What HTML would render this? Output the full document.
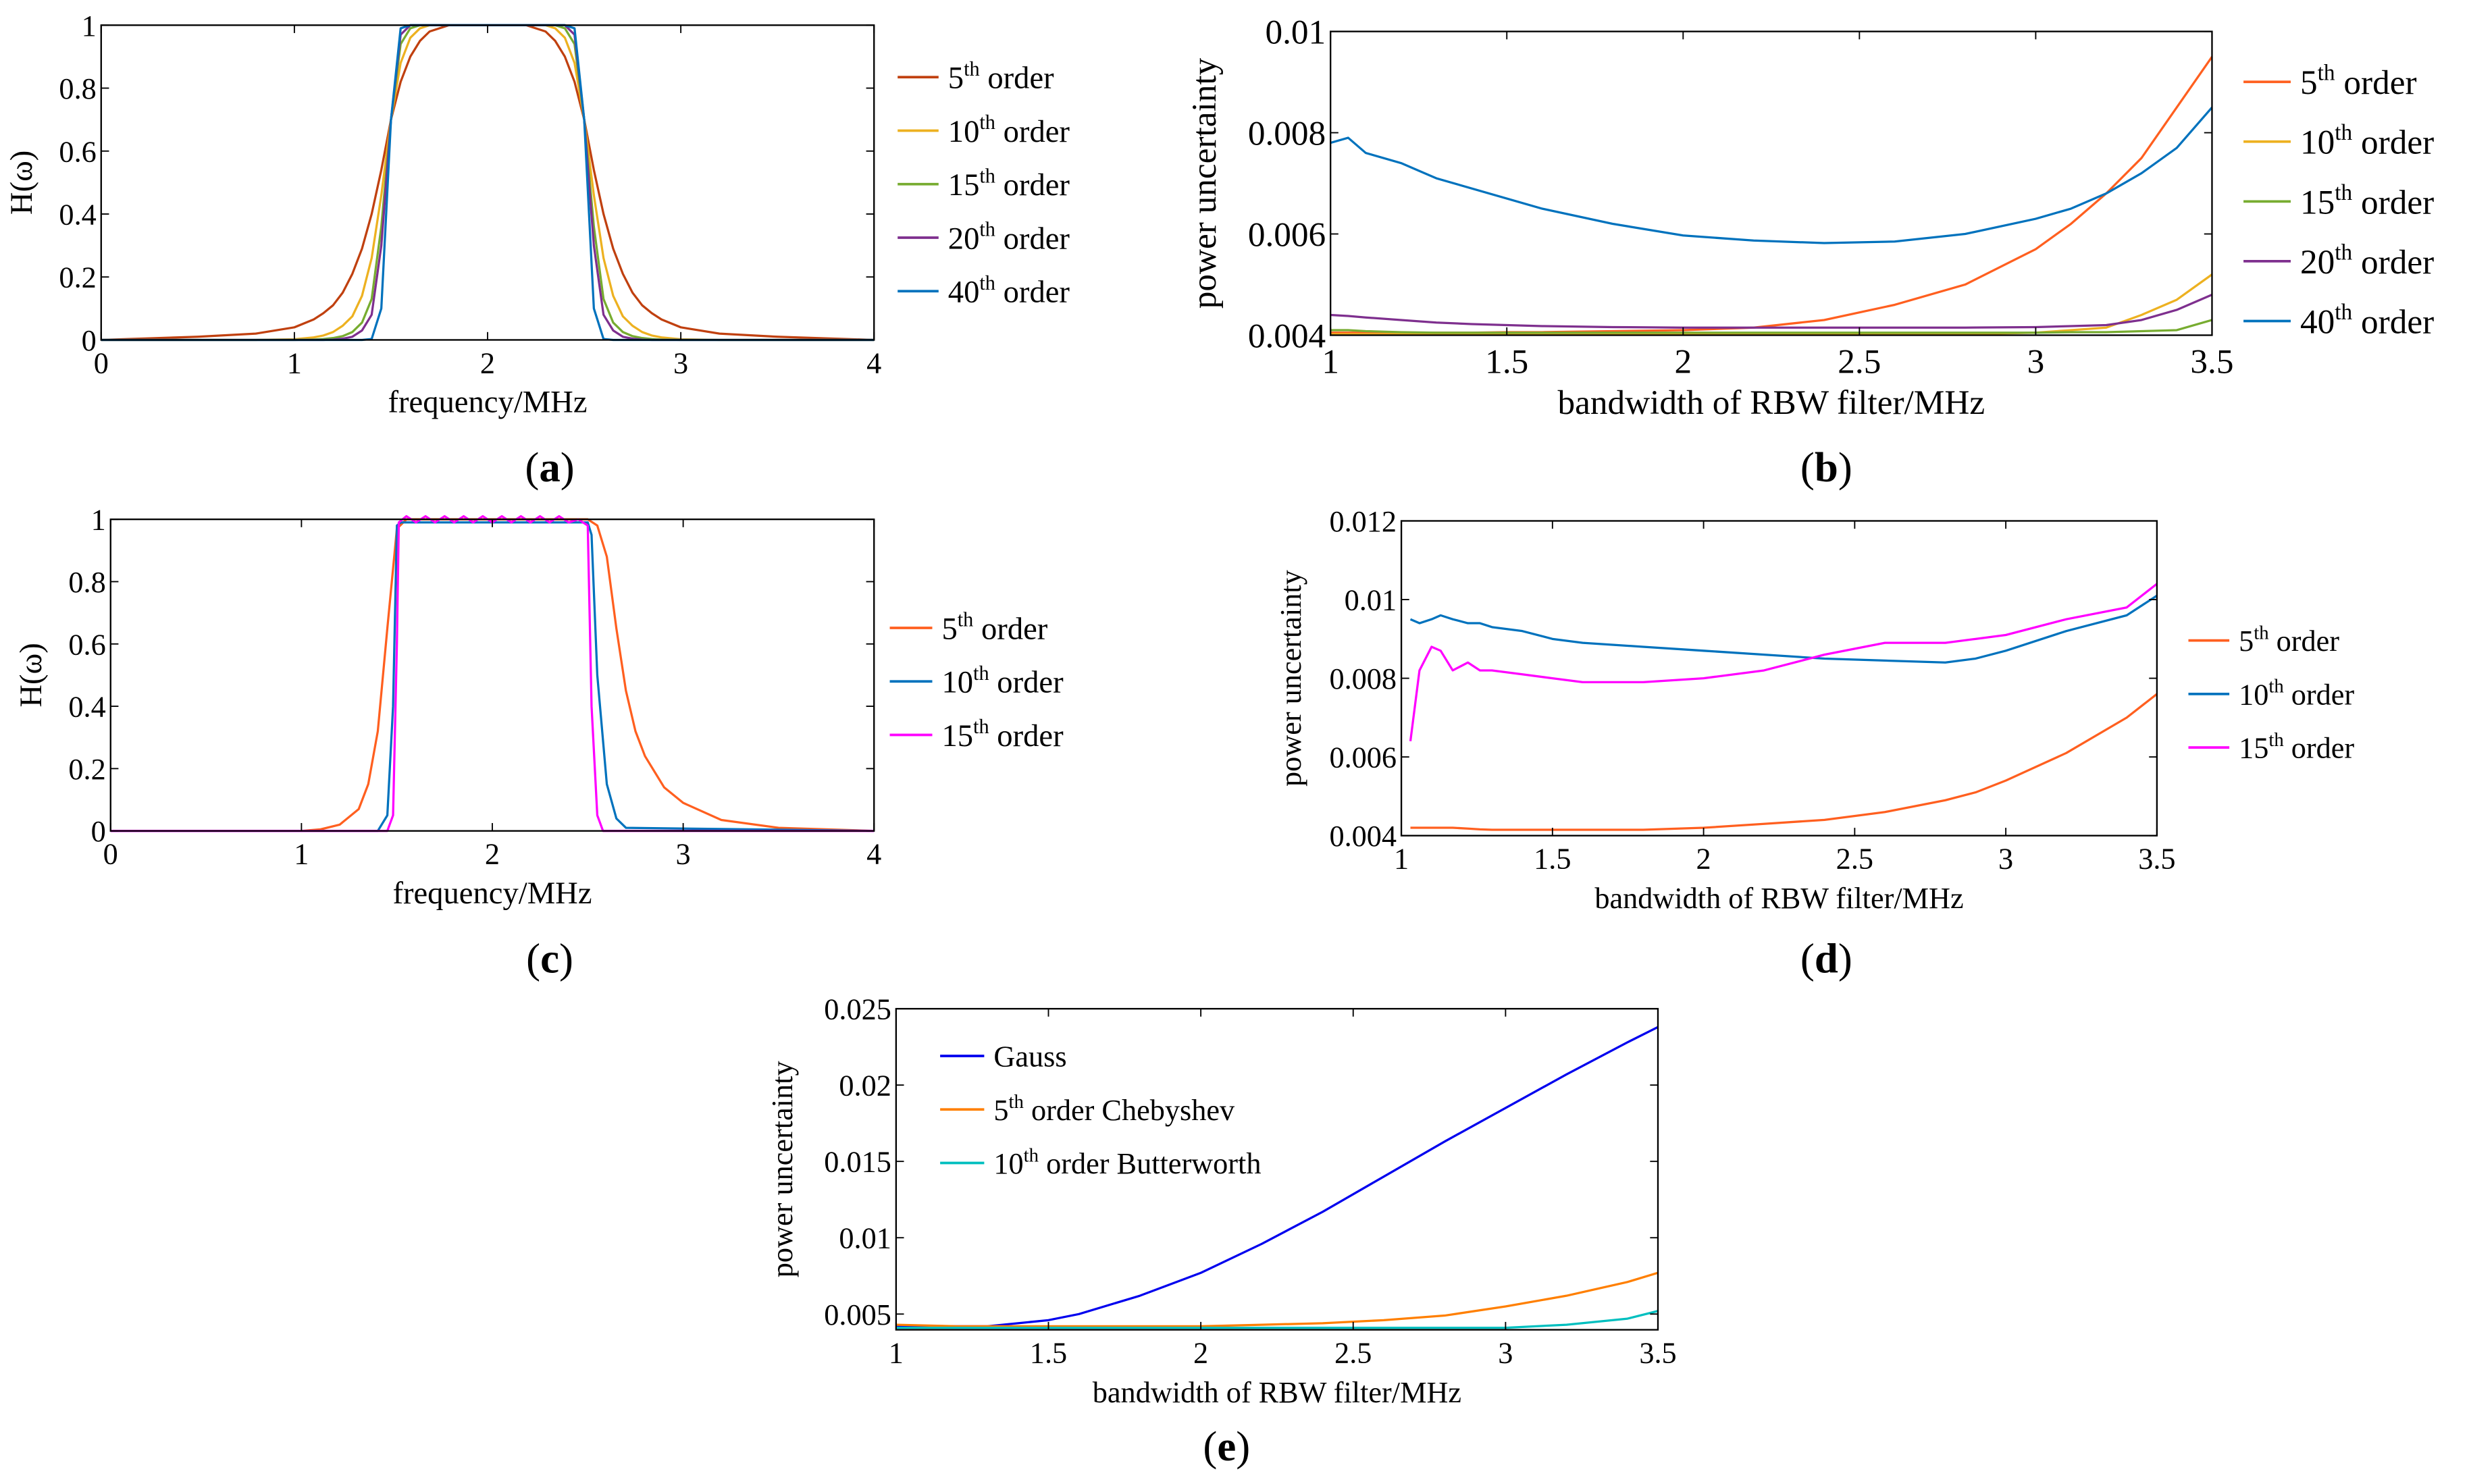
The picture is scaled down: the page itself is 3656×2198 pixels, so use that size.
<!DOCTYPE html>
<html><head><meta charset="utf-8"><style>
html,body{margin:0;padding:0;background:#fff;}
svg{display:block;font-family:"Liberation Serif",serif;}
svg text{font-family:"Liberation Serif",serif;}
</style></head><body>
<svg id="fig" width="3656" height="2198" viewBox="0 0 1568 943" font-family="Liberation Serif, serif" xmlns="http://www.w3.org/2000/svg"></svg>
<script>
// ---- panel (a) data ----
const aX = [0,0.5,0.8,1.0,1.1,1.15,1.2,1.25,1.3,1.35,1.4,1.45,1.5,1.55,1.6,1.65,1.7,1.8,2.2,2.3,2.35,2.4,2.45,2.5,2.55,2.6,2.65,2.7,2.75,2.8,2.85,2.9,3.0,3.2,3.5,4];
const a5 = [0,0.01,0.02,0.04,0.065,0.085,0.11,0.15,0.21,0.29,0.4,0.54,0.7,0.82,0.9,0.95,0.98,1,1,0.98,0.95,0.9,0.82,0.7,0.54,0.4,0.29,0.21,0.15,0.11,0.085,0.065,0.04,0.02,0.01,0];
const a10 = [0,0,0,0.002,0.008,0.014,0.025,0.045,0.075,0.14,0.26,0.46,0.7,0.88,0.96,0.99,1,1,1,1,0.99,0.96,0.88,0.7,0.46,0.26,0.14,0.075,0.045,0.025,0.014,0.008,0.002,0,0,0];
const a15 = [0,0,0,0,0.001,0.003,0.006,0.012,0.025,0.055,0.13,0.36,0.7,0.94,0.99,1,1,1,1,1,1,0.99,0.94,0.7,0.36,0.13,0.055,0.025,0.012,0.006,0.003,0.001,0,0,0,0];
const a20 = [0,0,0,0,0,0,0.001,0.004,0.01,0.03,0.08,0.3,0.7,0.97,1,1,1,1,1,1,1,1,0.97,0.7,0.3,0.08,0.03,0.01,0.004,0.001,0,0,0,0,0,0];
const a40 = [0,0,0,0,0,0,0,0,0,0,0.003,0.1,0.7,0.99,1,1,1,1,1,1,1,1,0.99,0.7,0.1,0.003,0,0,0,0,0,0,0,0,0,0];
// ---- panel (b) data ----
const bX = [1,1.05,1.1,1.2,1.3,1.4,1.5,1.6,1.8,2.0,2.2,2.4,2.6,2.8,3.0,3.1,3.2,3.3,3.4,3.5];
const b5 = [0.00405,0.00405,0.00405,0.00405,0.00405,0.00405,0.00406,0.00406,0.00408,0.0041,0.00415,0.0043,0.0046,0.005,0.0057,0.0062,0.0068,0.0075,0.0085,0.0095];
const b10 = [0.00402,0.00402,0.00402,0.00402,0.00402,0.00402,0.00402,0.00402,0.00402,0.00402,0.00402,0.00402,0.00402,0.00402,0.00405,0.0041,0.00415,0.0044,0.0047,0.0052];
const b15 = [0.0041,0.0041,0.00408,0.00406,0.00405,0.00405,0.00405,0.00405,0.00405,0.00405,0.00405,0.00405,0.00405,0.00405,0.00405,0.00406,0.00406,0.00408,0.0041,0.0043];
const b20 = [0.0044,0.00438,0.00435,0.0043,0.00425,0.00422,0.0042,0.00418,0.00416,0.00415,0.00415,0.00415,0.00415,0.00415,0.00416,0.00418,0.0042,0.0043,0.0045,0.0048];
const b40 = [0.0078,0.0079,0.0076,0.0074,0.0071,0.0069,0.0067,0.0065,0.0062,0.00597,0.00587,0.00582,0.00585,0.006,0.0063,0.0065,0.0068,0.0072,0.0077,0.0085];
// ---- panel (c) data ----
const cX5 = [0,1.0,1.1,1.2,1.3,1.35,1.4,1.45,1.5,1.55,2.5,2.55,2.6,2.65,2.7,2.75,2.8,2.9,3.0,3.2,3.5,4];
const c5 = [0,0,0.005,0.02,0.07,0.15,0.32,0.65,0.97,1,1,0.98,0.88,0.65,0.45,0.32,0.24,0.14,0.09,0.035,0.01,0];
const cX10 = [0,1.4,1.45,1.48,1.5,1.52,2.5,2.52,2.55,2.6,2.65,2.7,4];
const c10 = [0,0,0.05,0.4,0.98,0.99,0.99,0.95,0.5,0.15,0.04,0.01,0];
const cX15 = [0,1.45,1.48,1.5,1.51,1.55,1.6,1.65,1.7,1.75,1.8,1.85,1.9,1.95,2.0,2.05,2.1,2.15,2.2,2.25,2.3,2.35,2.4,2.45,2.5,2.52,2.55,2.58,4];
const c15 = [0,0,0.05,0.6,0.99,1.01,0.99,1.01,0.99,1.01,0.99,1.01,0.99,1.01,0.99,1.01,0.99,1.01,0.99,1.01,0.99,1.01,0.99,1.0,0.98,0.4,0.05,0,0];
// ---- panel (d) data ----
const dX = [1.03,1.06,1.1,1.13,1.17,1.22,1.26,1.3,1.4,1.5,1.6,1.8,2.0,2.2,2.4,2.6,2.8,2.9,3.0,3.2,3.4,3.5];
const d5 = [0.0042,0.0042,0.0042,0.0042,0.0042,0.00418,0.00416,0.00415,0.00415,0.00415,0.00415,0.00415,0.0042,0.0043,0.0044,0.0046,0.0049,0.0051,0.0054,0.0061,0.007,0.0076];
const d10 = [0.0095,0.0094,0.0095,0.0096,0.0095,0.0094,0.0094,0.0093,0.0092,0.009,0.0089,0.0088,0.0087,0.0086,0.0085,0.00845,0.0084,0.0085,0.0087,0.0092,0.0096,0.0101];
const d15 = [0.0064,0.0082,0.0088,0.0087,0.0082,0.0084,0.0082,0.0082,0.0081,0.008,0.0079,0.0079,0.008,0.0082,0.0086,0.0089,0.0089,0.009,0.0091,0.0095,0.0098,0.0104];
// ---- panel (e) data ----
const eX = [1,1.2,1.3,1.4,1.5,1.6,1.8,2.0,2.2,2.4,2.6,2.8,3.0,3.2,3.4,3.5];
const eGauss = [0.0042,0.0042,0.0042,0.0044,0.0046,0.005,0.0062,0.0077,0.0096,0.0117,0.014,0.0163,0.0185,0.0207,0.0228,0.0238];
const eCheb = [0.0043,0.0042,0.0042,0.0042,0.0042,0.0042,0.0042,0.0042,0.0043,0.0044,0.0046,0.0049,0.0055,0.0062,0.0071,0.0077];
const eButter = [0.0041,0.0041,0.0041,0.0041,0.0041,0.0041,0.0041,0.0041,0.0041,0.0041,0.0041,0.0041,0.0041,0.0043,0.0047,0.0052];
// ---- ticks ----
const freqTicks = [0,1,2,3,4];
const hTicks = [0,0.2,0.4,0.6,0.8,1];
const hTickLabels = ['0','0.2','0.4','0.6','0.8','1'];
const bwTicks = [1,1.5,2,2.5,3,3.5];
const bYTicks = [0.004,0.006,0.008,0.01];
const bYLabels = ['0.004','0.006','0.008','0.01'];
const dYTicks = [0.004,0.006,0.008,0.01,0.012];
const dYLabels = ['0.004','0.006','0.008','0.01','0.012'];
const eYTicks = [0.005,0.01,0.015,0.02,0.025];
const eYLabels = ['0.005','0.01','0.015','0.02','0.025'];

const NS='http://www.w3.org/2000/svg';
const svg=document.getElementById('fig');
function mk(tag,attrs,parent){const e=document.createElementNS(NS,tag);for(const k in attrs)e.setAttribute(k,attrs[k]);(parent||svg).appendChild(e);return e;}

function chart(o){
  const g=mk('g',{});
  
  
  const sx=v=>o.x0+(v-o.xmin)/(o.xmax-o.xmin)*(o.x1-o.x0);
  const sy=v=>o.y1-(v-o.ymin)/(o.ymax-o.ymin)*(o.y1-o.y0);
  o.series.forEach(s=>{
    const d=s.x.map((xv,i)=>(i?'L':'M')+sx(xv).toFixed(2)+' '+sy(s.y[i]).toFixed(2)).join(' ');
    const p=mk('path',{d:d,fill:'none',stroke:s.color,'stroke-width':1.4,'stroke-linejoin':'round'},g);
    
    
  });
  const box=mk('rect',{x:o.x0,y:o.y0,width:o.x1-o.x0,height:o.y1-o.y0,fill:'none',stroke:'#000','stroke-width':1},g);
  
  
  const fs=o.fs;
  o.xt.forEach(v=>{
    const x=sx(v);
    mk('line',{x1:x,y1:o.y1,x2:x,y2:o.y1-5,stroke:'#000','stroke-width':0.8},g);
    mk('line',{x1:x,y1:o.y0,x2:x,y2:o.y0+5,stroke:'#000','stroke-width':0.8},g);
    const t=mk('text',{x:x,y:o.y1+fs+2,'font-size':fs,'text-anchor':'middle'},g);
    t.textContent=String(v);
    
    
  });
  o.yt.forEach((v,i)=>{
    const y=sy(v);
    mk('line',{x1:o.x0,y1:y,x2:o.x0+5,y2:y,stroke:'#000','stroke-width':0.8},g);
    mk('line',{x1:o.x1,y1:y,x2:o.x1-5,y2:y,stroke:'#000','stroke-width':0.8},g);
    const t=mk('text',{x:o.x0-3,y:y+fs*0.35,'font-size':fs,'text-anchor':'end'},g);
    t.textContent=o.yl[i];
    
    
  });
  const xl=mk('text',{x:(o.x0+o.x1)/2,y:o.xly,'font-size':o.lfs||fs,'text-anchor':'middle'},g);
  xl.textContent=o.xlabel;
  
  
  const yl=mk('text',{x:0,y:0,'font-size':o.lfs||fs,'text-anchor':'middle',transform:`translate(${o.ylx},${(o.y0+o.y1)/2}) rotate(-90)`},g);
  yl.textContent=o.ylabel;
  
  
  o.series.forEach((s,i)=>{
    const y=o.leg.y+i*o.leg.dy;
    const lg=mk('g',{},g);
    
    
    mk('line',{x1:o.leg.x,y1:y,x2:o.leg.x+o.leg.w,y2:y,stroke:s.color,'stroke-width':1.6},lg);
    const t=mk('text',{x:o.leg.x+o.leg.w+6,y:y+o.leg.fs*0.35,'font-size':o.leg.fs},lg);
    if(s.sup){
      t.appendChild(document.createTextNode(s.pre));
      const ts=mk('tspan',{'font-size':o.leg.fs*0.65,dy:-o.leg.fs*0.4},t);ts.textContent='th';
      const ts2=mk('tspan',{dy:o.leg.fs*0.4},t);ts2.textContent=' '+s.post;
    } else t.textContent=s.pre;
  });
  const pl=mk('text',{x:o.plx,y:o.ply,'font-size':27,'text-anchor':'middle'},g);
  pl.innerHTML='(<tspan font-weight="bold">'+o.tag+'</tspan>)';
  
  
}

chart({name:'chart-a',x0:64,x1:555,y0:16,y1:216,xmin:0,xmax:4,ymin:0,ymax:1,fs:19,lfs:20,
  xt:freqTicks,yt:hTicks,yl:hTickLabels,xlabel:'frequency/MHz',xly:262,ylabel:'H(ω)',ylx:20,
  plx:349,ply:306,tag:'a',leg:{x:570,y:49,dy:34,w:26,fs:20},
  series:[{id:'series-5th',x:aX,y:a5,color:'#C0400F',sup:1,pre:'5',post:'order'},
    {id:'series-10th',x:aX,y:a10,color:'#EDB120',sup:1,pre:'10',post:'order'},
    {id:'series-15th',x:aX,y:a15,color:'#77AC30',sup:1,pre:'15',post:'order'},
    {id:'series-20th',x:aX,y:a20,color:'#7E2F8E',sup:1,pre:'20',post:'order'},
    {id:'series-40th',x:aX,y:a40,color:'#0072BD',sup:1,pre:'40',post:'order'}]});

chart({name:'chart-b',x0:845,x1:1405,y0:20,y1:213,xmin:1,xmax:3.5,ymin:0.004,ymax:0.01,fs:22,
  xt:bwTicks,yt:bYTicks,yl:bYLabels,xlabel:'bandwidth of RBW filter/MHz',xly:263,ylabel:'power uncertainty',ylx:772,
  plx:1160,ply:306,tag:'b',leg:{x:1425,y:52,dy:38,w:30,fs:22},
  series:[{id:'series-5th',x:bX,y:b5,color:'#FF5F1F',sup:1,pre:'5',post:'order'},
    {id:'series-10th',x:bX,y:b10,color:'#EDB120',sup:1,pre:'10',post:'order'},
    {id:'series-15th',x:bX,y:b15,color:'#77AC30',sup:1,pre:'15',post:'order'},
    {id:'series-20th',x:bX,y:b20,color:'#7E2F8E',sup:1,pre:'20',post:'order'},
    {id:'series-40th',x:bX,y:b40,color:'#0072BD',sup:1,pre:'40',post:'order'}]});

chart({name:'chart-c',x0:70,x1:555,y0:330,y1:528,xmin:0,xmax:4,ymin:0,ymax:1,fs:19,lfs:20,
  xt:freqTicks,yt:hTicks,yl:hTickLabels,xlabel:'frequency/MHz',xly:574,ylabel:'H(ω)',ylx:26,
  plx:349,ply:618,tag:'c',leg:{x:565,y:399,dy:34,w:27,fs:20},
  series:[{id:'series-5th',x:cX5,y:c5,color:'#FF5F1F',sup:1,pre:'5',post:'order'},
    {id:'series-10th',x:cX10,y:c10,color:'#0072BD',sup:1,pre:'10',post:'order'},
    {id:'series-15th',x:cX15,y:c15,color:'#FF00FF',sup:1,pre:'15',post:'order'}]});

chart({name:'chart-d',x0:890,x1:1370,y0:331,y1:531,xmin:1,xmax:3.5,ymin:0.004,ymax:0.012,fs:19,
  xt:bwTicks,yt:dYTicks,yl:dYLabels,xlabel:'bandwidth of RBW filter/MHz',xly:577,ylabel:'power uncertainty',ylx:826,
  plx:1160,ply:618,tag:'d',leg:{x:1390,y:407,dy:34,w:26,fs:19},
  series:[{id:'series-5th',x:dX,y:d5,color:'#FF5F1F',sup:1,pre:'5',post:'order'},
    {id:'series-10th',x:dX,y:d10,color:'#0072BD',sup:1,pre:'10',post:'order'},
    {id:'series-15th',x:dX,y:d15,color:'#FF00FF',sup:1,pre:'15',post:'order'}]});

chart({name:'chart-e',x0:569,x1:1053,y0:641,y1:845,xmin:1,xmax:3.5,ymin:0.00397,ymax:0.025,fs:19,
  xt:bwTicks,yt:eYTicks,yl:eYLabels,xlabel:'bandwidth of RBW filter/MHz',xly:891,ylabel:'power uncertainty',ylx:503,
  plx:779,ply:928,tag:'e',leg:{x:597,y:671,dy:34,w:28,fs:19},
  series:[{id:'series-gauss',x:eX,y:eGauss,color:'#0000EE',sup:0,pre:'Gauss'},
    {id:'series-chebyshev',x:eX,y:eCheb,color:'#FF7F00',sup:1,pre:'5',post:'order Chebyshev'},
    {id:'series-butterworth',x:eX,y:eButter,color:'#00BFBF',sup:1,pre:'10',post:'order Butterworth'}]});
</script>
</body></html>
